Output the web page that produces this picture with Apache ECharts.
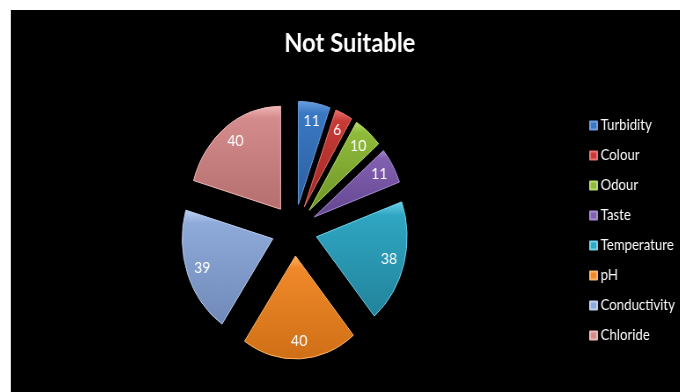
<!DOCTYPE html>
<html>
<head>
<meta charset="utf-8">
<script src="https://cdn.jsdelivr.net/npm/echarts@6/dist/echarts.min.js"></script>
<style>
  html, body { margin: 0; padding: 0; background: #ffffff; }
  #frame {
    position: absolute; left: 10px; top: 10px;
    width: 670px; height: 382px;
    background: #000000; overflow: hidden;
    border-left: 1px solid #d8d8d8; box-sizing: border-box;
  }
  /* the chart is laid out wider and compressed horizontally,
     which gives the oval pie and the narrow lettering */
  #chart {
    position: absolute; left: 0; top: 0;
    width: 760px; height: 382px;
    transform: scaleX(0.88); transform-origin: 0 0;
  }
</style>
</head>
<body>
<div id="frame"><div id="chart"></div></div>
<script>
// Parameters counted as "not suitable"
const categories = ['Turbidity', 'Colour', 'Odour', 'Taste', 'Temperature', 'pH', 'Conductivity', 'Chloride'];
const counts = [11, 6, 10, 11, 38, 40, 39, 40];
const baseColors = ['#3a78c4', '#c83a36', '#8fbb3a', '#8260b0', '#2fa6c2', '#f0892a', '#8eaad8', '#d48b8b'];
const rimColors = ['#6c9fe0', '#e87470', '#b8dc6a', '#a98ad4', '#6fd2ea', '#ffb466', '#bcd0f2', '#f0b8b8'];
const shadeColors = ['#2c5f9e', '#9e2a27', '#6f9428', '#634690', '#22839b', '#cf6f16', '#7089b8', '#b56f6f'];

const FONT = 'Lato, "Open Sans", "Liberation Sans", sans-serif';
const CENTER = [322, 220];
const RADIUS = 103;
const OFFSET = 26;

const chart = echarts.init(document.getElementById('chart'), null, { renderer: 'canvas' });

const sliceData = categories.map((name, i) => ({
  name: name,
  value: counts[i],
  selected: true,
  itemStyle: {
    color: new echarts.graphic.LinearGradient(0, 0, 0, 1, [
      { offset: 0, color: rimColors[i] },
      { offset: 0.12, color: baseColors[i] },
      { offset: 1, color: shadeColors[i] }
    ]),
    borderColor: rimColors[i],
    borderWidth: 1
  }
}));

// transparent ring carrying the value labels near the rim
const labelData = categories.map((name, i) => ({
  name: name,
  value: counts[i],
  selected: true,
  itemStyle: { color: 'rgba(0,0,0,0)' }
}));

chart.setOption({
  backgroundColor: '#000000',
  animation: false,
  color: baseColors,
  title: {
    text: 'Not Suitable',
    left: 380,
    top: 15,
    textAlign: 'center',
    textStyle: { color: '#ffffff', fontFamily: FONT, fontWeight: 'bold', fontSize: 27 }
  },
  legend: {
    orient: 'vertical',
    left: 652,
    top: 103,
    itemWidth: 8,
    itemHeight: 8,
    itemGap: 15,
    icon: 'rect',
    selectedMode: false,
    data: categories.map((name, i) => ({ name: name, itemStyle: { color: baseColors[i] } })),
    textStyle: { color: '#ffffff', fontFamily: FONT, fontSize: 15, padding: [0, 0, 0, -1] }
  },
  series: [
    {
      type: 'pie',
      center: CENTER,
      radius: [0, RADIUS],
      startAngle: 90,
      clockwise: true,
      selectedMode: 'multiple',
      selectedOffset: OFFSET,
      avoidLabelOverlap: false,
      label: { show: false },
      labelLine: { show: false },
      emphasis: { disabled: true },
      data: sliceData
    },
    {
      type: 'pie',
      center: CENTER,
      radius: [RADIUS * 0.6, RADIUS],
      startAngle: 90,
      clockwise: true,
      selectedMode: 'multiple',
      selectedOffset: OFFSET,
      avoidLabelOverlap: false,
      silent: true,
      label: {
        show: true,
        position: 'inside',
        formatter: '{c}',
        color: '#ffffff',
        fontFamily: FONT,
        fontSize: 16,
        textBorderWidth: 0
      },
      labelLine: { show: false },
      emphasis: { disabled: true },
      data: labelData
    }
  ]
});
</script>
</body>
</html>
